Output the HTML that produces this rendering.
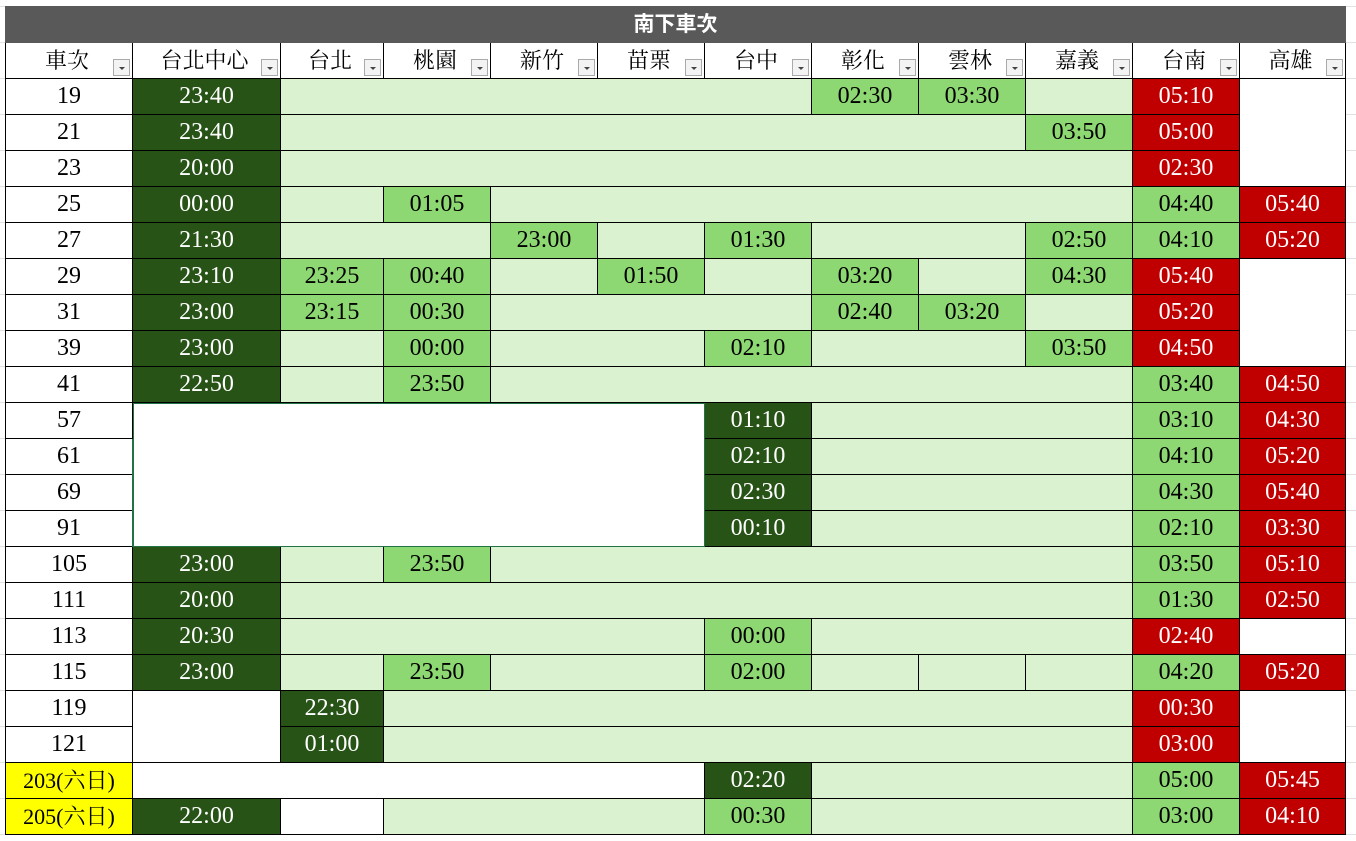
<!DOCTYPE html>
<html><head><meta charset="utf-8">
<style>
body{margin:0;width:1356px;height:841px;background:#fff;overflow:hidden;position:relative;
background-image:linear-gradient(#e1e1e1 1px,transparent 1px);background-size:100% 36px;background-position:0 6px}
table{position:absolute;left:5px;top:6px;border-collapse:collapse;table-layout:fixed;
font-family:"Liberation Serif","Noto Serif CJK SC",serif;font-size:24px}
td{border:1px solid #000;height:35px;padding:0;text-align:center;line-height:35px;overflow:hidden;white-space:nowrap}
.t{background:#595959;color:#fff;font-weight:bold;font-family:"Liberation Sans","Noto Sans CJK TC",sans-serif;font-size:21px;border-color:#595959}
.h{background:#fff;position:relative;font-family:"Liberation Serif","Noto Serif CJK TC",serif;font-size:22px}
.h span{display:inline-block;margin-right:4px}
.h i{position:absolute;right:2px;bottom:2px;width:17px;height:17px;border:1px solid #aaa;background:#f3f3f3;box-sizing:border-box}
.h i:after{content:"";position:absolute;left:5px;top:7px;border-left:3px solid transparent;border-right:3px solid transparent;border-top:3px solid #444}
.D{background:#275317;color:#fff}
.L{background:#daf2d0}
.M{background:#8ed873}
.R{background:#c00000;color:#fff}
.W{background:#fff}
.Y{background:#ffff00;font-family:"Liberation Serif","Noto Serif CJK TC",serif;font-size:22px}
.G{border:1px solid #217346;box-shadow:inset 1px 1px 0 #217346}
</style></head><body>
<table>
<colgroup><col style="width:127px"><col style="width:148px"><col style="width:103px"><col style="width:107px"><col style="width:107px"><col style="width:107px"><col style="width:107px"><col style="width:107px"><col style="width:107px"><col style="width:107px"><col style="width:107px"><col style="width:106px"></colgroup>
<tr><td class="t" colspan="12">南下車次</td></tr>
<tr><td class="h"><span>車次</span><i></i></td><td class="h"><span>台北中心</span><i></i></td><td class="h"><span>台北</span><i></i></td><td class="h"><span>桃園</span><i></i></td><td class="h"><span>新竹</span><i></i></td><td class="h"><span>苗栗</span><i></i></td><td class="h"><span>台中</span><i></i></td><td class="h"><span>彰化</span><i></i></td><td class="h"><span>雲林</span><i></i></td><td class="h"><span>嘉義</span><i></i></td><td class="h"><span>台南</span><i></i></td><td class="h"><span>高雄</span><i></i></td></tr>
<tr><td>19</td><td class="D">23:40</td><td class="L" colspan="5"></td><td class="M">02:30</td><td class="M">03:30</td><td class="L"></td><td class="R">05:10</td><td class="W" rowspan="3"></td></tr>
<tr><td>21</td><td class="D">23:40</td><td class="L" colspan="7"></td><td class="M">03:50</td><td class="R">05:00</td></tr>
<tr><td>23</td><td class="D">20:00</td><td class="L" colspan="8"></td><td class="R">02:30</td></tr>
<tr><td>25</td><td class="D">00:00</td><td class="L"></td><td class="M">01:05</td><td class="L" colspan="6"></td><td class="M">04:40</td><td class="R">05:40</td></tr>
<tr><td>27</td><td class="D">21:30</td><td class="L" colspan="2"></td><td class="M">23:00</td><td class="L"></td><td class="M">01:30</td><td class="L" colspan="2"></td><td class="M">02:50</td><td class="M">04:10</td><td class="R">05:20</td></tr>
<tr><td>29</td><td class="D">23:10</td><td class="M">23:25</td><td class="M">00:40</td><td class="L"></td><td class="M">01:50</td><td class="L"></td><td class="M">03:20</td><td class="L"></td><td class="M">04:30</td><td class="R">05:40</td><td class="W" rowspan="3"></td></tr>
<tr><td>31</td><td class="D">23:00</td><td class="M">23:15</td><td class="M">00:30</td><td class="L" colspan="3"></td><td class="M">02:40</td><td class="M">03:20</td><td class="L"></td><td class="R">05:20</td></tr>
<tr><td>39</td><td class="D">23:00</td><td class="L"></td><td class="M">00:00</td><td class="L" colspan="2"></td><td class="M">02:10</td><td class="L" colspan="2"></td><td class="M">03:50</td><td class="R">04:50</td></tr>
<tr><td>41</td><td class="D">22:50</td><td class="L"></td><td class="M">23:50</td><td class="L" colspan="6"></td><td class="M">03:40</td><td class="R">04:50</td></tr>
<tr><td>57</td><td class="W G" colspan="5" rowspan="4"></td><td class="D">01:10</td><td class="L" colspan="3"></td><td class="M">03:10</td><td class="R">04:30</td></tr>
<tr><td>61</td><td class="D">02:10</td><td class="L" colspan="3"></td><td class="M">04:10</td><td class="R">05:20</td></tr>
<tr><td>69</td><td class="D">02:30</td><td class="L" colspan="3"></td><td class="M">04:30</td><td class="R">05:40</td></tr>
<tr><td>91</td><td class="D">00:10</td><td class="L" colspan="3"></td><td class="M">02:10</td><td class="R">03:30</td></tr>
<tr><td>105</td><td class="D">23:00</td><td class="L"></td><td class="M">23:50</td><td class="L" colspan="6"></td><td class="M">03:50</td><td class="R">05:10</td></tr>
<tr><td>111</td><td class="D">20:00</td><td class="L" colspan="8"></td><td class="M">01:30</td><td class="R">02:50</td></tr>
<tr><td>113</td><td class="D">20:30</td><td class="L" colspan="4"></td><td class="M">00:00</td><td class="L" colspan="3"></td><td class="R">02:40</td><td class="W"></td></tr>
<tr><td>115</td><td class="D">23:00</td><td class="L"></td><td class="M">23:50</td><td class="L" colspan="2"></td><td class="M">02:00</td><td class="L"></td><td class="L"></td><td class="L"></td><td class="M">04:20</td><td class="R">05:20</td></tr>
<tr><td>119</td><td class="W" rowspan="2"></td><td class="D">22:30</td><td class="L" colspan="7"></td><td class="R">00:30</td><td class="W" rowspan="2"></td></tr>
<tr><td>121</td><td class="D">01:00</td><td class="L" colspan="7"></td><td class="R">03:00</td></tr>
<tr><td class="Y">203(六日)</td><td class="W" colspan="5"></td><td class="D">02:20</td><td class="L" colspan="3"></td><td class="M">05:00</td><td class="R">05:45</td></tr>
<tr><td class="Y">205(六日)</td><td class="D">22:00</td><td class="W"></td><td class="L" colspan="3"></td><td class="M">00:30</td><td class="L" colspan="3"></td><td class="M">03:00</td><td class="R">04:10</td></tr>
</table>
</body></html>
